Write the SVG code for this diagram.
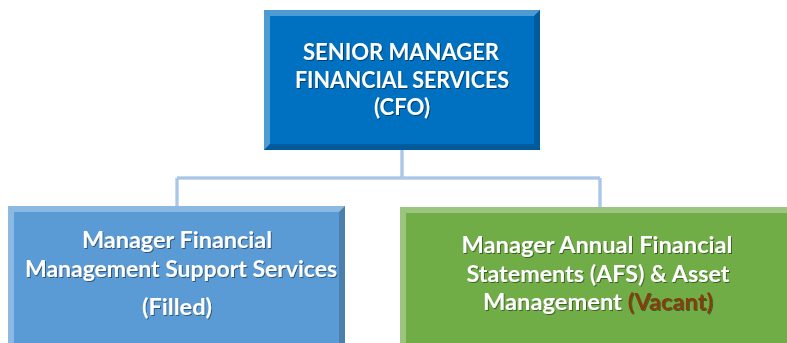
<svg xmlns="http://www.w3.org/2000/svg" width="787" height="343" viewBox="0 0 787 343">
<defs>
<filter id="ts" x="-10%" y="-10%" width="120%" height="130%">
<feDropShadow dx="1" dy="1" stdDeviation="0.6" flood-color="#000" flood-opacity="0.45"/>
</filter>
</defs>
<style>
.t{font-family:Lato,"Liberation Sans",sans-serif;font-weight:bold;fill:#fff;text-anchor:middle}
.conn{stroke:#8DB4E2;stroke-width:3;fill:none}
.conn2{stroke:#C6D9F1;stroke-width:1;fill:none}
.hl{fill:#fff;opacity:0.3}
.dk{fill:#000;opacity:0.18}
</style>
<rect width="787" height="343" fill="#fff"/>
<g id="connectors">
<path class="conn" d="M402 150 V178 M177 178 H600 M177 178 V206 M600 178 V207"/>
<path class="conn2" d="M402 150 V178 M177 178 H600 M177 178 V206 M600 178 V207"/>
</g>
<g id="cfo">
<rect x="264" y="10" width="276" height="140" fill="#0070C0"/>
<polygon class="hl" points="264,10 540,10 534,16 270,16"/>
<polygon class="hl" points="264,10 270,16 270,144 264,150" opacity="0.2"/>
<polygon class="dk" points="540,10 540,150 534,144 534,16"/>
<polygon class="dk" points="264,150 540,150 534,144 270,144"/>
<g filter="url(#ts)">
<text class="t" font-size="22" x="401" y="60" textLength="196" lengthAdjust="spacingAndGlyphs">SENIOR MANAGER</text>
<text class="t" font-size="22" x="402" y="88" textLength="214" lengthAdjust="spacingAndGlyphs">FINANCIAL SERVICES</text>
<text class="t" font-size="22" x="402" y="115" textLength="56" lengthAdjust="spacingAndGlyphs">(CFO)</text>
</g>
</g>
<g id="fmss">
<rect x="8" y="206" width="337" height="140" fill="#5B9BD5"/>
<polygon class="hl" points="8,206 345,206 339,212 14,212"/>
<polygon class="hl" points="8,206 14,212 14,343 8,343" opacity="0.2"/>
<polygon class="dk" points="345,206 345,343 339,343 339,212"/>
<g filter="url(#ts)">
<text class="t" font-size="23" x="177" y="248" textLength="190" lengthAdjust="spacingAndGlyphs">Manager Financial</text>
<text class="t" font-size="23" x="181" y="277" textLength="312" lengthAdjust="spacingAndGlyphs">Management Support Services</text>
<text class="t" font-size="23" x="177" y="315" textLength="70" lengthAdjust="spacingAndGlyphs">(Filled)</text>
</g>
</g>
<g id="afs">
<rect x="400" y="207" width="390" height="140" fill="#70AD47"/>
<polygon class="hl" points="400,207 787,207 787,213 406,213"/>
<polygon class="hl" points="400,207 406,213 406,343 400,343" opacity="0.2"/>
<g filter="url(#ts)">
<text class="t" font-size="23" x="597" y="253" textLength="271" lengthAdjust="spacingAndGlyphs">Manager Annual Financial</text>
<text class="t" font-size="23" x="598" y="282" textLength="263" lengthAdjust="spacingAndGlyphs">Statements (AFS) &amp; Asset</text>
<text class="t" font-size="23" x="598" y="310" textLength="230" lengthAdjust="spacingAndGlyphs">Management <tspan fill="#843C0C">(Vacant)</tspan></text>
</g>
</g>
</svg>
